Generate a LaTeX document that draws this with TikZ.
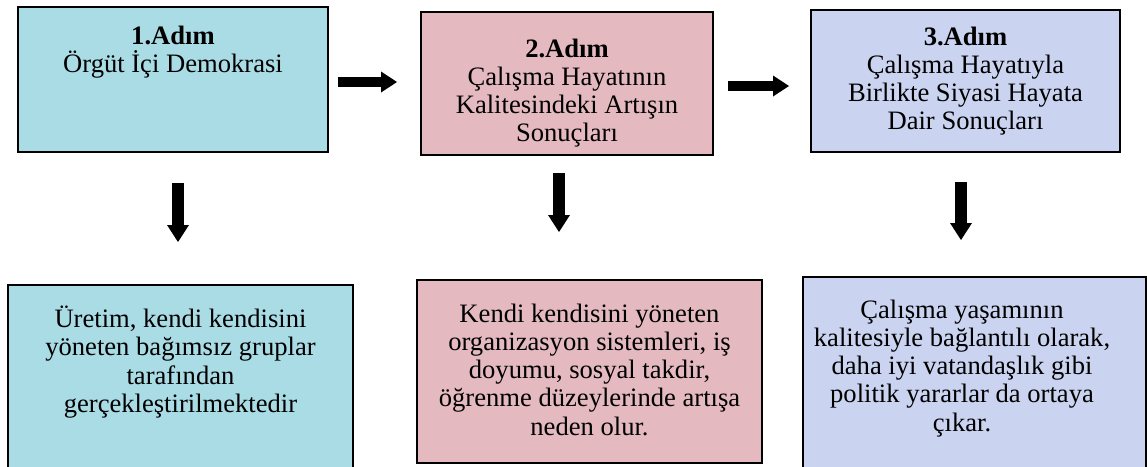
\documentclass[tikz,border=0pt]{standalone}
\usepackage{fontspec}
\setmainfont{Liberation Serif}
\usetikzlibrary{arrows.meta}
\definecolor{drop}{RGB}{170,220,230}
\definecolor{rose}{RGB}{228,186,192}
\definecolor{haze}{RGB}{202,212,240}
\begin{document}
\begin{tikzpicture}[x=1pt,y=-1pt,
  card/.style={draw=black, line width=1.3pt, anchor=north west, inner sep=0pt, outer sep=0pt},
  txt/.style={align=center, inner sep=0pt, anchor=north, font=\fontsize{26.6}{28.2}\selectfont},
  fat/.style={line width=10.5pt, -{Triangle[length=16pt,width=21pt,line width=0pt]}},
  tall/.style={line width=12pt, -{Triangle[length=17pt,width=22pt,line width=0pt]}}]
\useasboundingbox (0,0) rectangle (1147,466);
\clip (0,0) rectangle (1147,466);

% top row: the three steps
\node[card, fill=drop, minimum width=310pt, minimum height=145pt] (b1) at (18,7) {};
\node[card, fill=rose, minimum width=292pt, minimum height=143pt] (b2) at (421,12) {};
\node[card, fill=haze, minimum width=309pt, minimum height=142pt] (b3) at (811,10) {};

% bottom row: outcomes of each step
\node[card, fill=drop, minimum width=345pt, minimum height=200pt] (b4) at (8,285) {};
\node[card, fill=rose, minimum width=345pt, minimum height=183pt] (b5) at (417,280) {};
\node[card, fill=haze, minimum width=343pt, minimum height=205pt] (b6) at (803,277) {};

% texts
\node[txt] (t1) at (173,25.6) {\textbf{1.Adım}\\Örgüt İçi Demokrasi};
\node[txt] (t2) at (567,38.6) {\textbf{2.Adım}\\Çalışma Hayatının\\Kalitesindeki Artışın\\Sonuçları};
\node[txt] (t3) at (965.5,26.6) {\textbf{3.Adım}\\Çalışma Hayatıyla\\Birlikte Siyasi Hayata\\Dair Sonuçları};
\node[txt] (t4) at (180.5,306) {Üretim, kendi kendisini\\yöneten bağımsız gruplar\\tarafından\\gerçekleştirilmektedir};
\node[txt] (t5) at (589.5,303.6) {Kendi kendisini yöneten\\organizasyon sistemleri, iş\\doyumu, sosyal takdir,\\öğrenme düzeylerinde artışa\\neden olur.};
\node[txt] (t6) at (962,299.6) {Çalışma yaşamının\\kalitesiyle bağlantılı olarak,\\daha iyi vatandaşlık gibi\\politik yararlar da ortaya\\çıkar.};

% block arrows between the steps
\draw[fat, shorten <=10pt, shorten >=24pt] (b1.east |- 0,82) -- (b2.west |- 0,82);
\draw[fat, shorten <=15pt, shorten >=22pt] (b2.east |- 0,86) -- (b3.west |- 0,86);

% block arrows from each step to its outcome
\draw[tall, shorten <=31pt, shorten >=43pt] (b1.south -| 178,0) -- (b4.north -| 178,0);
\draw[tall, shorten <=18pt, shorten >=48pt] (b2.south -| 559,0) -- (b5.north -| 559,0);
\draw[tall, shorten <=30pt, shorten >=37pt] (b3.south -| 961,0) -- (b6.north -| 961,0);
\end{tikzpicture}
\end{document}
